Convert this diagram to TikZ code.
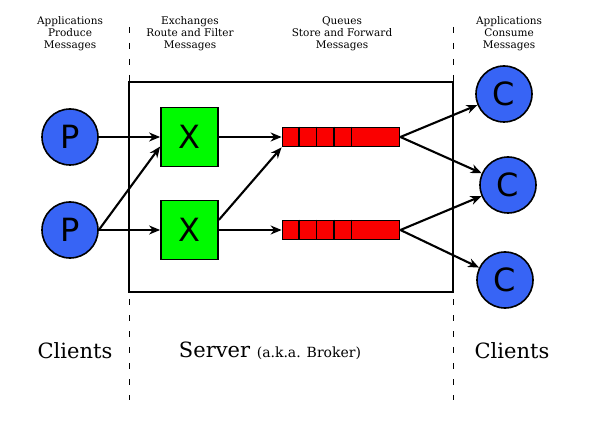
\documentclass[tikz,border=0pt]{standalone}
\usepackage{fontspec}
\setmainfont{DejaVu Serif}
\newfontfamily\lettersfont{DejaVu Sans}
\usepackage{tikz}
\usetikzlibrary{arrows.meta, calc, positioning}

\definecolor{clientblue}{RGB}{55,100,245}
\definecolor{exgreen}{RGB}{0,250,0}
\definecolor{queuered}{RGB}{250,0,0}

\begin{document}
\begin{tikzpicture}[x=1pt, y=-1pt,
		client/.style = {circle, draw=black, line width=1.6pt, fill=clientblue,
					minimum size=56pt, inner sep=0pt,
					font=\lettersfont\fontsize{32}{32}\selectfont},
		exchange/.style = {rectangle, draw=black, line width=1.8pt, fill=exgreen,
					minimum width=57pt, minimum height=59pt, inner sep=0pt,
					font=\lettersfont\fontsize{32}{32}\selectfont},
		queue/.style = {rectangle, draw=black, line width=1.8pt, fill=queuered,
					minimum width=117pt, minimum height=19pt, inner sep=0pt},
		flow/.style = {line width=2.1pt, -{Stealth[length=11pt, width=9pt, inset=3.5pt]}},
		heading/.style = {align=center, font=\fontsize{10.5}{12}\selectfont},
		footing/.style = {font=\fontsize{21}{24}\selectfont}
                   ]

%Define canvas
    \useasboundingbox (0,0) rectangle (596,435);

%Separators
    \draw[line width=0.8pt, dash pattern=on 6pt off 10pt] (129,27) -- (129,400);
    \draw[line width=0.8pt, dash pattern=on 6pt off 10pt] (453,27) -- (453,400);

%Server box
    \draw[line width=1.8pt] (129,82) rectangle (453,292);

%Headings
    \node[heading] (hprod) at (70,34) {Applications\\Produce\\Messages};
    \node[heading] (hex) at (190,34) {Exchanges\\Route and Filter\\Messages};
    \node[heading] (hq) at (342,34) {Queues\\Store and Forward\\Messages};
    \node[heading] (hcons) at (509,34) {Applications\\Consume\\Messages};

%Producers
    \node[client] (p1) at (70,137) {P};
    \node[client] (p2) at (70,230) {P};

%Exchanges
    \node[exchange] (x1) at (189.5,137) {X};
    \node[exchange] (x2) at (189.5,230) {X};

%Queues
    \node[queue] (q1) at (341,137) {};
    \node[queue] (q2) at (341,230) {};
    \foreach \q in {q1,q2}
    {
		\foreach \i in {1,...,4}
		{
			\draw[line width=1.5pt] ($(\q.north west)+(17.5*\i,0)$) -- ($(\q.south west)+(17.5*\i,0)$);
		}
    }

%Consumers
    \node[client] (c1) at (504,94) {C};
    \node[client] (c2) at (508,185) {C};
    \node[client] (c3) at (505,280) {C};

%Routing
	\draw[flow] (p1.east) -- (x1.west);
	\draw[flow] (p2.east) -- (x1.198);
	\draw[flow] (p2.east) -- (x2.west);
	\draw[flow] (x1.east) -- (q1.west);
	\draw[flow] (x2.19) -- (q1.south west);
	\draw[flow] (x2.east) -- (q2.west);

%Delivery
	\draw[flow] (q1.east) -- (c1);
	\draw[flow] (q1.east) -- (c2);
	\draw[flow] (q2.east) -- (c2);
	\draw[flow] (q2.east) -- (c3);

%Footings
    \node[footing] (fprod) at (75,351) {Clients};
    \node[footing] (fserver) at (270,351) {Server {\fontsize{14}{16}\selectfont (a.k.a. Broker)}};
    \node[footing] (fcons) at (512,351) {Clients};

\end{tikzpicture}
\end{document}
